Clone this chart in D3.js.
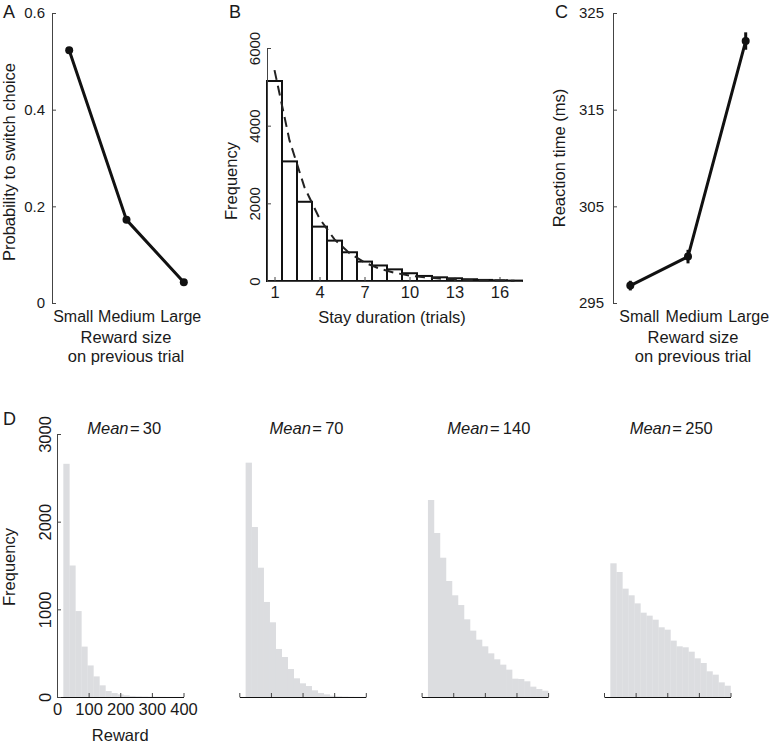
<!DOCTYPE html>
<html><head><meta charset="utf-8">
<script src="https://cdn.jsdelivr.net/npm/d3@7"></script>
<style>
body{margin:0;background:#fff}
svg{display:block}
text{font-family:"Liberation Sans",Arial,Helvetica,sans-serif;fill:#1a1a1a}
</style>
</head><body>
<svg id="c" width="771" height="744"></svg>
<script>
// ---------- data ----------
const categories = ["Small", "Medium", "Large"];
const switchProb = [0.523, 0.172, 0.043];
const probTicks = [0, 0.2, 0.4, 0.6];

const rtMean = [296.8, 299.8, 322.1];
const rtErr = [0.5, 0.7, 0.9];
const rtTicks = [295, 305, 315, 325];

const stayDuration = [1, 2, 3, 4, 5, 6, 7, 8, 9, 10, 11, 12, 13, 14, 15, 16, 17];
const stayFreq = [5150, 3080, 2040, 1400, 1040, 740, 500, 400, 300, 200, 130, 95, 70, 45, 28, 18, 10];
const stayFit = [5430, 3620, 2410, 1610, 1070, 715, 477, 318, 212, 141, 94, 63, 42, 28, 19, 12, 8];
const stayXTicks = [1, 4, 7, 10, 13, 16];
const stayYTicks = [0, 2000, 4000, 6000];

const rewardMeans = [30, 70, 140, 250];
const rewardEdges = [20, 39, 58, 77, 96, 115, 134, 153, 172, 191, 210, 229, 248, 267, 286, 305, 324, 343, 362, 381, 400];
const freqMean30 = [2660, 1500, 980, 575, 360, 235, 133, 68, 45, 30, 19, 12, 8, 6, 4, 3, 2, 1, 1, 1];
const freqMean70 = [2673, 1939, 1475, 1084, 852, 548, 456, 319, 213, 156, 125, 76, 46, 30, 15, 8, 5, 3, 2, 1];
const freqMean140 = [2247, 1871, 1589, 1323, 1160, 1049, 886, 757, 654, 578, 498, 430, 369, 312, 209, 205, 179, 118, 91, 72];
const freqMean250 = [1525, 1426, 1236, 1160, 1068, 962, 928, 882, 795, 768, 643, 578, 567, 517, 441, 388, 293, 255, 167, 129];
const rewardXTicks = [0, 100, 200, 300, 400];
const rewardYTicks = [0, 1000, 2000, 3000];

// ---------- helpers ----------
const svg = d3.select("#c");
const AX = "#444";
function styleAxis(g, fs) {
  g.select(".domain").attr("stroke", AX).attr("stroke-width", 1);
  g.selectAll(".tick line").attr("stroke", AX).attr("stroke-width", 1);
  g.selectAll(".tick text").attr("font-size", fs).attr("fill", "#1a1a1a")
    .attr("font-family", '"Liberation Sans",Arial,sans-serif');
}
function rotateTickLabels(g, dx) {
  g.selectAll(".tick text").attr("x", null).attr("dy", null)
    .attr("text-anchor", "middle").attr("transform", `translate(${dx},0) rotate(-90)`)
    .attr("dy", "0.35em");
}
function label(x, y, txt, fs, opts = {}) {
  const t = svg.append("text").attr("x", x).attr("y", y).attr("font-size", fs)
    .attr("text-anchor", opts.anchor || "middle").text(txt);
  if (opts.rotate) t.attr("transform", `rotate(-90,${x},${y})`).attr("dy", "0.35em");
  return t;
}
const tickFs = 15, labFs = 16.5, catFs = 16, panelFs = 18;

// ---------- Panel A ----------
const xA = d3.scaleLinear().domain([0.7, 3.3]).range([52, 201]);
const yA = d3.scaleLinear().domain([0, 0.6]).range([303, 13]);
const gA = svg.append("g").attr("transform", "translate(52,0)")
  .call(d3.axisLeft(yA).tickValues(probTicks).tickSizeInner(-4).tickSizeOuter(0).tickPadding(7)
    .tickFormat(d => d === 0 ? "0" : d3.format(".1f")(d)));
styleAxis(gA, tickFs);
svg.append("path").datum(switchProb)
  .attr("d", d3.line().x((d, i) => xA(i + 1)).y(d => yA(d)))
  .attr("fill", "none").attr("stroke", "#111").attr("stroke-width", 3);
svg.selectAll(".ptA").data(switchProb).enter().append("circle")
  .attr("cx", (d, i) => xA(i + 1)).attr("cy", d => yA(d)).attr("r", 4).attr("fill", "#111");
categories.forEach((c, i) => label(xA(i + 1) + [4, 0, -3][i], 322, c, catFs));
label(126, 343, "Reward size", labFs);
label(126, 362, "on previous trial", labFs);
label(9, 162, "Probability to switch choice", labFs, { rotate: true });
label(3, 18, "A", panelFs, { anchor: "start" });

// ---------- Panel B ----------
const xB = d3.scaleLinear().domain([0.5, 17.5]).range([267, 522]);
const yB = d3.scaleLinear().domain([0, 6000]).range([281, 48]);
svg.selectAll(".barB").data(stayDuration).enter().append("rect")
  .attr("x", d => xB(d - 0.5)).attr("width", xB(1) - xB(0))
  .attr("y", (d, i) => yB(stayFreq[i])).attr("height", (d, i) => yB(0) - yB(stayFreq[i]))
  .attr("fill", "#fff").attr("stroke", "#111").attr("stroke-width", 2);
const gBy = svg.append("g").attr("transform", "translate(267,0)")
  .call(d3.axisLeft(yB).tickValues(stayYTicks).tickSizeInner(-4).tickSizeOuter(0).tickFormat(d3.format("d")));
styleAxis(gBy, tickFs); rotateTickLabels(gBy, -12);
const gBx = svg.append("g").attr("transform", "translate(0,281)")
  .call(d3.axisBottom(xB).tickValues(stayXTicks).tickSizeInner(-4).tickSizeOuter(0).tickPadding(5));
styleAxis(gBx, labFs);
svg.append("path").datum(stayFit)
  .attr("d", d3.line().x((d, i) => xB(stayDuration[i])).y(d => yB(d)))
  .attr("fill", "none").attr("stroke", "#222").attr("stroke-width", 2).attr("stroke-dasharray", "10,6");
label(392, 323, "Stay duration (trials)", labFs);
label(231, 181, "Frequency", labFs, { rotate: true });
label(229, 18, "B", panelFs, { anchor: "start" });

// ---------- Panel C ----------
const xC = d3.scaleLinear().domain([0.7, 3.3]).range([613, 763]);
const yC = d3.scaleLinear().domain([295, 325]).range([303, 13]);
const gC = svg.append("g").attr("transform", "translate(613,0)")
  .call(d3.axisLeft(yC).tickValues(rtTicks).tickSizeInner(-4).tickSizeOuter(0).tickPadding(9));
styleAxis(gC, tickFs);
svg.append("path").datum(rtMean)
  .attr("d", d3.line().x((d, i) => xC(i + 1)).y(d => yC(d)))
  .attr("fill", "none").attr("stroke", "#111").attr("stroke-width", 3);
svg.selectAll(".errC").data(rtMean).enter().append("line")
  .attr("x1", (d, i) => xC(i + 1)).attr("x2", (d, i) => xC(i + 1))
  .attr("y1", (d, i) => yC(d - rtErr[i])).attr("y2", (d, i) => yC(d + rtErr[i]))
  .attr("stroke", "#111").attr("stroke-width", 3);
svg.selectAll(".ptC").data(rtMean).enter().append("circle")
  .attr("cx", (d, i) => xC(i + 1)).attr("cy", d => yC(d)).attr("r", 4).attr("fill", "#111");
categories.forEach((c, i) => label(xC(i + 1) + [9, 6, 3][i], 322, c, catFs));
label(693, 343, "Reward size", labFs);
label(693, 362, "on previous trial", labFs);
label(559, 158, "Reaction time (ms)", labFs, { rotate: true });
label(555, 18, "C", panelFs, { anchor: "start" });

// ---------- Panel D ----------
const dSeries = [freqMean30, freqMean70, freqMean140, freqMean250];
const dStarts = [57, 239.3, 421.6, 604];
const yD = d3.scaleLinear().domain([0, 3000]).range([697, 434]);
dSeries.forEach((freq, k) => {
  const xD = d3.scaleLinear().domain([0, 400]).range([dStarts[k], dStarts[k] + 126.5]);
  svg.append("g").selectAll("rect").data(freq).enter().append("rect")
    .attr("x", (d, i) => xD(rewardEdges[i])).attr("width", (d, i) => xD(rewardEdges[i + 1]) - xD(rewardEdges[i]) + 0.3)
    .attr("y", d => yD(d)).attr("height", d => yD(0) - yD(d))
    .attr("fill", "#dcdde0");
  const gx = svg.append("g").attr("transform", "translate(0,697)")
    .call(d3.axisBottom(xD).tickValues(rewardXTicks).tickSizeInner(-4).tickSizeOuter(0).tickPadding(6));
  styleAxis(gx, labFs);
  gx.select(".domain").attr("stroke", "#111");
  if (k > 0) gx.selectAll(".tick text").remove();
  const cx = (xD.range()[0] + xD.range()[1]) / 2 + 4;
  const t = svg.append("text").attr("x", cx).attr("y", 434).attr("font-size", 16.5).attr("text-anchor", "middle");
  t.append("tspan").attr("font-style", "italic").text("Mean");
  t.append("tspan").text("\u200A=\u2009" + rewardMeans[k]);
  if (k === 0) {
    const gy = svg.append("g").attr("transform", `translate(${dStarts[0]},0)`)
      .call(d3.axisLeft(yD).tickValues(rewardYTicks).tickSizeInner(-4).tickSizeOuter(0).tickFormat(d3.format("d")));
    styleAxis(gy, labFs); rotateTickLabels(gy, -12);
    label(cx - 4, 741, "Reward", labFs);
  }
});
label(9, 567, "Frequency", labFs, { rotate: true });
label(3, 425, "D", panelFs, { anchor: "start" });
</script>
</body></html>
